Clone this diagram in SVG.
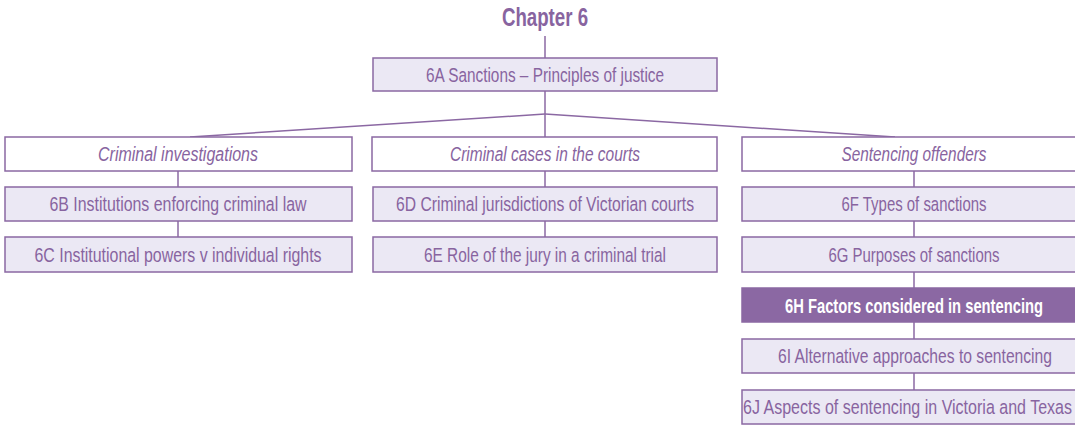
<svg xmlns="http://www.w3.org/2000/svg" width="1075" height="426" viewBox="0 0 1075 426">
<style>
.box{fill:#ebe8f4;stroke:#8b68a3;stroke-width:1.5}
.hdr{fill:#ffffff;stroke:#8b68a3;stroke-width:1.5}
.dark{fill:#8b68a3;stroke:#8b68a3;stroke-width:1.5}
.t{font-family:"Liberation Sans",Arial,sans-serif;font-size:20.5px;fill:#8864a0;text-anchor:middle}
.i{font-style:italic}
.b{font-weight:bold}
.w{fill:#ffffff}
.c line{stroke:#8b68a3;stroke-width:1.5}
</style>
<g class="c" id="connectors">
<line x1="545" y1="36" x2="545" y2="58"/>
<line x1="545" y1="91" x2="545" y2="137"/>
<line x1="545" y1="114" x2="190" y2="137"/>
<line x1="545" y1="114" x2="895" y2="137"/>
<line x1="178" y1="171" x2="178" y2="187"/>
<line x1="178" y1="221" x2="178" y2="237"/>
<line x1="545" y1="171" x2="545" y2="187"/>
<line x1="545" y1="221" x2="545" y2="237"/>
<line x1="914" y1="171" x2="914" y2="187"/>
<line x1="914" y1="221" x2="914" y2="237"/>
<line x1="914" y1="272" x2="914" y2="288"/>
<line x1="914" y1="322" x2="914" y2="339"/>
<line x1="914" y1="373" x2="914" y2="390"/>
</g>
<g id="chapter"><text class="t b" x="545" y="26" style="font-size:25px" textLength="86" lengthAdjust="spacingAndGlyphs">Chapter 6</text></g>
<g id="n6A"><rect class="box" x="373" y="58" width="344" height="33"/><text class="t" x="545" y="82" textLength="238" lengthAdjust="spacingAndGlyphs">6A Sanctions – Principles of justice</text></g>
<g id="h1"><rect class="hdr" x="5" y="137" width="347" height="34"/><text class="t i" x="178" y="161" textLength="160" lengthAdjust="spacingAndGlyphs">Criminal investigations</text></g>
<g id="n6B"><rect class="box" x="5" y="187" width="347" height="34"/><text class="t" x="178" y="211" textLength="257" lengthAdjust="spacingAndGlyphs">6B Institutions enforcing criminal law</text></g>
<g id="n6C"><rect class="box" x="5" y="237" width="347" height="35"/><text class="t" x="178" y="262" textLength="287" lengthAdjust="spacingAndGlyphs">6C Institutional powers v individual rights</text></g>
<g id="h2"><rect class="hdr" x="372" y="137" width="345" height="34"/><text class="t i" x="545" y="161" textLength="190" lengthAdjust="spacingAndGlyphs">Criminal cases in the courts</text></g>
<g id="n6D"><rect class="box" x="373" y="187" width="344" height="34"/><text class="t" x="545" y="211" textLength="298" lengthAdjust="spacingAndGlyphs">6D Criminal jurisdictions of Victorian courts</text></g>
<g id="n6E"><rect class="box" x="373" y="237" width="344" height="35"/><text class="t" x="545" y="262" textLength="242" lengthAdjust="spacingAndGlyphs">6E Role of the jury in a criminal trial</text></g>
<g id="h3"><rect class="hdr" x="742" y="137" width="334" height="34"/><text class="t i" x="914" y="161" textLength="145" lengthAdjust="spacingAndGlyphs">Sentencing offenders</text></g>
<g id="n6F"><rect class="box" x="742" y="187" width="334" height="34"/><text class="t" x="914" y="211" textLength="145" lengthAdjust="spacingAndGlyphs">6F Types of sanctions</text></g>
<g id="n6G"><rect class="box" x="742" y="237" width="334" height="35"/><text class="t" x="914" y="262" textLength="171" lengthAdjust="spacingAndGlyphs">6G Purposes of sanctions</text></g>
<g id="n6H"><rect class="dark" x="742" y="288" width="334" height="34"/><text class="t b w" x="914" y="313" textLength="258" lengthAdjust="spacingAndGlyphs">6H Factors considered in sentencing</text></g>
<g id="n6I"><rect class="box" x="742" y="339" width="334" height="34"/><text class="t" x="915" y="363" textLength="274" lengthAdjust="spacingAndGlyphs">6I Alternative approaches to sentencing</text></g>
<g id="n6J"><rect class="box" x="742" y="390" width="334" height="34"/><text class="t" x="907.5" y="414" textLength="329" lengthAdjust="spacingAndGlyphs">6J Aspects of sentencing in Victoria and Texas</text></g>
</svg>
